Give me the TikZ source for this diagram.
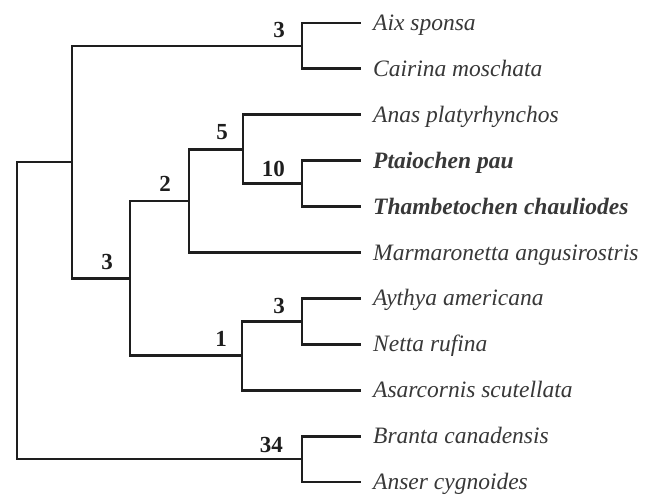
\documentclass[tikz,border=0pt]{standalone}
\usepackage{fontspec}
\setmainfont{Liberation Serif}
\usetikzlibrary{calc}
\definecolor{ink}{HTML}{1E1E1E}
\definecolor{txt}{HTML}{383838}
\begin{document}
\begin{tikzpicture}[x=1pt,y=1pt,
  branch/.style={draw=ink,line width=2.8pt,line cap=rect},
  leaf/.style={anchor=base west,inner sep=0pt,text=txt,font=\fontsize{23.5}{27}\selectfont\itshape},
  bleaf/.style={leaf,font=\fontsize{23.5}{27}\selectfont\bfseries\itshape},
  numlab/.style={anchor=base east,inner sep=0pt,text=ink,font=\fontsize{23}{26}\selectfont\bfseries}]
\useasboundingbox[fill=white] (0,0) rectangle (658,-497);
% leaf tips
\coordinate (t1) at (360,-23);
\coordinate (t2) at (360,-68.9);
\coordinate (t3) at (360,-114.8);
\coordinate (t4) at (360,-160.7);
\coordinate (t5) at (360,-206.6);
\coordinate (t6) at (360,-252.5);
\coordinate (t7) at (360,-298.4);
\coordinate (t8) at (360,-344.3);
\coordinate (t9) at (360,-390.2);
\coordinate (t10) at (360,-436.1);
\coordinate (t11) at (360,-482);
% leaf names
\node[leaf] (L1) at ([shift={(13,-7.5)}]t1) {Aix sponsa};
\node[leaf] (L2) at ([shift={(13,-7.5)}]t2) {Cairina moschata};
\node[leaf] (L3) at ([shift={(13,-7.5)}]t3) {Anas platyrhynchos};
\node[bleaf] (L4) at ([shift={(13,-7.5)}]t4) {Ptaiochen pau};
\node[bleaf] (L5) at ([shift={(13,-7.5)}]t5) {Thambetochen chauliodes};
\node[leaf] (L6) at ([shift={(13,-7.5)}]t6) {Marmaronetta angusirostris};
\node[leaf] (L7) at ([shift={(13,-7.5)}]t7) {Aythya americana};
\node[leaf] (L8) at ([shift={(13,-7.5)}]t8) {Netta rufina};
\node[leaf] (L9) at ([shift={(13,-7.5)}]t9) {Asarcornis scutellata};
\node[leaf] (L10) at ([shift={(13,-7.5)}]t10) {Branta canadensis};
\node[leaf] (L11) at ([shift={(13,-7.5)}]t11) {Anser cygnoides};
% internal nodes
\coordinate (nAix) at (302,-45.95);
\coordinate (n10) at (302,-183.65);
\coordinate (n5) at (243,-149.2);
\coordinate (n2) at (189,-200.9);
\coordinate (nAy) at (302,-321.35);
\coordinate (n1) at (242,-355.8);
\coordinate (n3) at (130,-278.3);
\coordinate (nA) at (72,-162.1);
\coordinate (nB) at (302,-459.05);
\coordinate (root) at (17,-310.6);
% branches
\path[branch] (nAix) |- (t1) (nAix) |- (t2);
\path[branch] (n10) |- (t4) (n10) |- (t5);
\path[branch] (n5) |- (t3) (n5) |- (n10);
\path[branch] (n2) |- (n5) (n2) |- (t6);
\path[branch] (nAy) |- (t7) (nAy) |- (t8);
\path[branch] (n1) |- (nAy) (n1) |- (t9);
\path[branch] (n3) |- (n2) (n3) |- (n1);
\path[branch] (nA) |- (nAix) (nA) |- (n3);
\path[branch] (nB) |- (t10) (nB) |- (t11);
\path[branch] (root) |- (nA) (root) |- (nB);
% support values
\node[numlab] (s1) at ([shift={(-17,8)}]nAix) {3};
\node[numlab] (s2) at ([shift={(-17,7)}]n10) {10};
\node[numlab] (s3) at ([shift={(-15,10)}]n5) {5};
\node[numlab] (s4) at ([shift={(-18,9)}]n2) {2};
\node[numlab] (s5) at ([shift={(-17,8)}]nAy) {3};
\node[numlab] (s6) at ([shift={(-15,9)}]n1) {1};
\node[numlab] (s7) at ([shift={(-17,9)}]n3) {3};
\node[numlab] (s8) at ([shift={(-19,7)}]nB) {34};
\end{tikzpicture}
\end{document}
